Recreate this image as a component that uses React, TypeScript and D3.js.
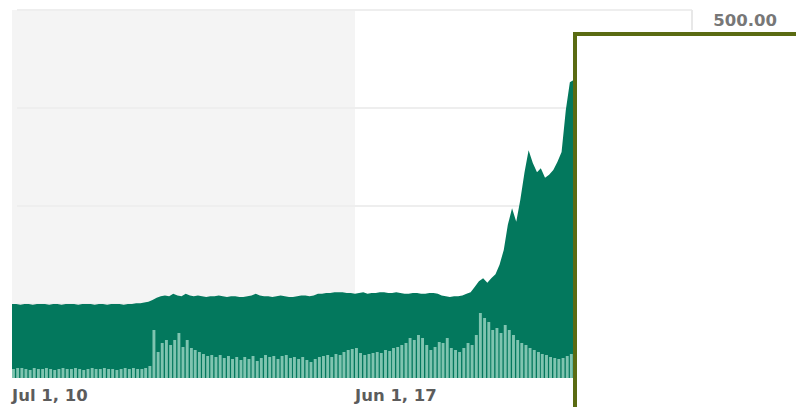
import React, { useEffect, useRef } from 'react';
import * as d3 from 'd3';

// monthly closes, Jul 2010 .. Nov 2021
const prices = [
  125, 125, 124, 125, 125, 124, 125, 125, 125, 124,
  125, 125, 124, 125, 125, 125, 124, 125, 125, 125,
  124, 125, 125, 124, 125, 125, 125, 124, 125, 125,
  126, 126, 127, 128,
  130, 133, 135, 136, 135, 138, 136, 135, 138, 136,
  135, 136, 135, 134, 135, 135, 136, 135, 134, 135,
  135, 134, 134, 135, 136, 138, 136, 135, 135, 134,
  135, 136, 135, 134, 134, 135, 136, 136, 135, 136,
  138, 138, 139, 139, 140, 140, 140, 139, 139, 138,
  139, 140, 138, 139, 139, 140, 140, 139, 139, 140,
  139, 138, 138, 139, 139, 138, 138, 139, 139, 138,
  136, 135, 134, 135, 135, 136, 138, 140, 147, 154,
  158, 152, 158, 163, 175, 194, 226, 247, 230, 258,
  293, 321, 305, 293, 298, 286, 290, 296, 306, 319,
  372, 408, 411,
];

// monthly volume
const volumes = [
  9, 10, 10, 9, 8, 10, 9, 9, 10, 9,
  8, 9, 10, 9, 9, 10, 9, 8, 9, 10,
  9, 9, 10, 9, 9, 8, 9, 10, 9, 10,
  9, 9, 10, 12,
  48, 26, 35, 38, 33, 38, 45, 31, 38, 30,
  28, 26, 24, 22, 23, 21, 23, 20, 22, 19,
  21, 18, 21, 19, 22, 17, 20, 23, 21, 22,
  19, 22, 23, 20, 21, 19, 21, 18, 16, 19,
  21, 22, 23, 21, 24, 23, 26, 28, 29, 30,
  25, 23, 24, 25, 26, 25, 28, 27, 30, 31,
  33, 35, 40, 38, 43, 40, 33, 28, 31, 36,
  35, 40, 30, 28, 26, 30, 35, 33, 43, 65,
  60, 56, 48, 50, 45, 53, 48, 43, 38, 35,
  33, 30, 28, 26, 24, 23, 21, 20, 19, 20,
  22, 24, 26,
];

const gridValues = [125, 250, 375, 500];
const topLabel = '500.00';
const xTicks = [
  { date: new Date(2010, 6, 1), label: 'Jul 1, 10' },
  { date: new Date(2017, 5, 1), label: 'Jun 1, 17' },
];
const shadeRange = [new Date(2010, 6, 1), new Date(2017, 5, 1)];

const W = 796;
const H = 407;
const plotBottom = 378;
const FONT = '"DejaVu Sans", sans-serif';

const App = () => {
  const ref = useRef(null);

  useEffect(() => {
    document.body.style.margin = '0';
    if (!ref.current) return;
    const svg = d3.select(ref.current);
    svg.selectAll('*').remove();

    const months = d3.timeMonth.range(new Date(2010, 6, 1), new Date(2021, 11, 1));
    const data = months.map((d, i) => ({ date: d, price: prices[i], vol: volumes[i] }));

    const x = d3.scaleTime()
      .domain([xTicks[0].date, xTicks[1].date])
      .range([12, 355]);
    const y = d3.scaleLinear().domain([0, 500]).range([402, 10]);
    const yVol = d3.scaleLinear().domain([0, 80]).range([plotBottom, plotBottom - 80]);

    // shaded period
    svg.append('rect')
      .attr('x', x(shadeRange[0]))
      .attr('y', y(500))
      .attr('width', x(shadeRange[1]) - x(shadeRange[0]))
      .attr('height', plotBottom - y(500))
      .attr('fill', '#f4f4f4');

    // gridlines
    svg.selectAll('.grid')
      .data(gridValues)
      .enter().append('line')
        .attr('x1', 17)
        .attr('x2', 692)
        .attr('y1', d => y(d))
        .attr('y2', d => y(d))
        .attr('stroke', '#eeeeee')
        .attr('stroke-width', 2);

    svg.append('line')
      .attr('x1', 692).attr('x2', 692)
      .attr('y1', y(500)).attr('y2', 30)
      .attr('stroke', '#e8e8e8')
      .attr('stroke-width', 2);

    svg.append('text')
      .attr('x', 777)
      .attr('y', 26)
      .attr('text-anchor', 'end')
      .style('font-family', FONT)
      .style('font-size', '16.5px')
      .style('font-weight', 'bold')
      .style('fill', '#777')
      .text(topLabel);

    const area = d3.area()
      .x(d => x(d.date))
      .y0(plotBottom)
      .y1(d => y(d.price));

    svg.append('path')
      .datum(data)
      .attr('d', area)
      .attr('fill', '#03785d');

    svg.selectAll('.vol')
      .data(data)
      .enter().append('rect')
        .attr('x', d => x(d.date))
        .attr('y', d => yVol(d.vol))
        .attr('width', 2.9)
        .attr('height', d => plotBottom - yVol(d.vol))
        .attr('fill', '#7fc4b0');

    svg.selectAll('.xlab')
      .data(xTicks)
      .enter().append('text')
        .attr('x', d => x(d.date))
        .attr('y', 401)
        .style('font-family', FONT)
        .style('font-size', '16.5px')
        .style('font-weight', 'bold')
        .style('fill', '#5c5c5c')
        .text(d => d.label);

    // overlay box
    svg.append('rect')
      .attr('x', 575)
      .attr('y', 34)
      .attr('width', 260)
      .attr('height', 420)
      .attr('fill', '#fff')
      .attr('stroke', '#5a6b12')
      .attr('stroke-width', 4);
  }, []);

  return <svg ref={ref} width={W} height={H} style={{ display: 'block' }} />;
};

export default App;
